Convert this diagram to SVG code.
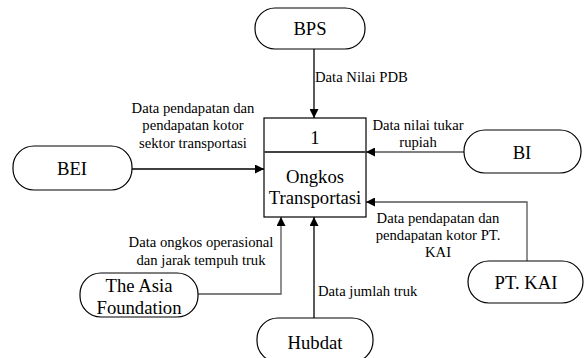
<svg xmlns="http://www.w3.org/2000/svg" width="584" height="358" viewBox="0 0 584 358">
<defs>
<marker id="arr" viewBox="0 0 10 10" refX="10" refY="5" markerWidth="10" markerHeight="9" markerUnits="userSpaceOnUse" orient="auto">
<path d="M0,0 L10,5 L0,10 Z" fill="#000"/>
</marker>
</defs>
<style>
.pill{fill:#fff;stroke:#000;stroke-width:1.2}
.nt{font-family:"Liberation Serif","Times New Roman",serif;font-size:18.67px;fill:#000;text-anchor:middle}
.lb{font-family:"Liberation Serif","Times New Roman",serif;font-size:14.67px;fill:#000;text-anchor:middle}
.ls{text-anchor:start}
.c{fill:none;stroke-width:1.3;marker-end:url(#arr)}
</style>
<rect width="584" height="358" fill="#fff"/>
<g id="connectors">
<line class="c" x1="314" y1="49" x2="314" y2="118" stroke="#000"/>
<line class="c" x1="132" y1="169" x2="264" y2="169" stroke="#000"/>
<line class="c" x1="464" y1="152" x2="366" y2="152" stroke="#555"/>
<polyline class="c" points="527,261 527,202 366,202" stroke="#555"/>
<polyline class="c" points="198,294 281,294 281,217" stroke="#555"/>
<line class="c" x1="314" y1="318" x2="314" y2="217" stroke="#000"/>
<text class="lb ls" x="315" y="82">Data Nilai PDB</text>
<text class="lb" x="193" y="113">Data pendapatan dan</text>
<text class="lb" x="193" y="130">pendapatan kotor</text>
<text class="lb" x="193" y="148">sektor transportasi</text>
<text class="lb" x="418" y="130">Data nilai tukar</text>
<text class="lb" x="418" y="147">rupiah</text>
<text class="lb" x="438" y="223">Data pendapatan dan</text>
<text class="lb" x="438" y="240">pendapatan kotor PT.</text>
<text class="lb" x="438" y="257">KAI</text>
<text class="lb" x="201" y="247">Data ongkos operasional</text>
<text class="lb" x="201" y="265">dan jarak tempuh truk</text>
<text class="lb ls" x="318" y="296">Data jumlah truk</text>
</g>
<g id="process">
<rect x="264" y="118" width="102" height="99" fill="#fff" stroke="#000" stroke-width="1.2"/>
<line x1="264" y1="152" x2="366" y2="152" stroke="#444" stroke-width="2.2"/>
<text class="nt" x="315" y="143.5">1</text>
<text class="nt" x="315" y="183">Ongkos</text>
<text class="nt" x="315" y="203.5">Transportasi</text>
</g>
<g id="BPS">
<rect class="pill" x="255" y="8" width="110" height="41" rx="20" ry="20"/>
<text class="nt" x="310" y="35">BPS</text>
</g>
<g id="BEI">
<rect class="pill" x="13" y="146" width="119" height="44" rx="21" ry="21"/>
<text class="nt" x="72" y="174.5">BEI</text>
</g>
<g id="BI">
<rect class="pill" x="464" y="130" width="117" height="43" rx="21" ry="21"/>
<text class="nt" x="522" y="158.5">BI</text>
</g>
<g id="PTKAI">
<rect class="pill" x="468" y="261" width="115" height="42" rx="21" ry="21"/>
<text class="nt" x="526" y="288.5">PT. KAI</text>
</g>
<g id="TheAsiaFoundation">
<rect class="pill" x="80" y="273" width="118" height="44" rx="21" ry="21"/>
<text class="nt" x="139" y="291.5">The Asia</text>
<text class="nt" x="139" y="313.5">Foundation</text>
</g>
<g id="Hubdat">
<rect class="pill" x="257" y="318" width="116" height="44" rx="21" ry="21"/>
<text class="nt" x="315" y="348.5">Hubdat</text>
</g>
</svg>
